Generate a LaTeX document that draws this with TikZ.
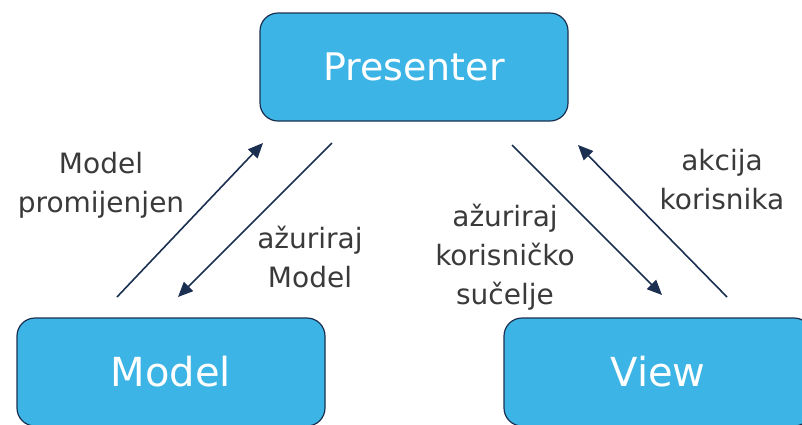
\documentclass[tikz,border=0pt]{standalone}
\usepackage{fontspec}
\setmainfont{DejaVu Sans}
\usetikzlibrary{arrows.meta}
\definecolor{boxfill}{HTML}{3CB4E5}
\definecolor{boxedge}{HTML}{1B3050}
\definecolor{arrowcol}{HTML}{1B2F50}
\definecolor{labelcol}{HTML}{3A3A3A}
\tikzset{
  box/.style={draw=boxedge, line width=1.2pt, fill=boxfill, rounded corners=18pt,
    minimum width=308pt, minimum height=108pt, inner sep=0pt, text=white},
  flow/.style={draw=arrowcol, line width=1.6pt, -{Triangle[length=15pt,width=13pt]}},
  lbl/.style={text=labelcol, align=center, font=\fontsize{28}{39}\selectfont, inner sep=0pt}
}
\begin{document}
\begin{tikzpicture}[x=1pt,y=-1pt]
\useasboundingbox (0,0) rectangle (802,424);
\clip (0,0) rectangle (802,424);
\node[box, font=\fontsize{38}{44}\selectfont] (presenter) at (414,67) {Presenter};
\node[box, font=\fontsize{40}{46}\selectfont] (model) at (171,372) {Model};
\node[box, font=\fontsize{40}{46}\selectfont] (view) at (658,372) {View};

\coordinate (a1s) at (117,297); \coordinate (a1e) at (263,143);
\coordinate (a2s) at (332,143); \coordinate (a2e) at (178,297);
\coordinate (a3s) at (512,145); \coordinate (a3e) at (662,295);
\coordinate (a4s) at (727,297); \coordinate (a4e) at (578,145);
\draw[flow] (a1s) -- (a1e);
\draw[flow] (a2s) -- (a2e);
\draw[flow] (a3s) -- (a3e);
\draw[flow] (a4s) -- (a4e);

\node[lbl] (l1) at (101,185) {Model\\promijenjen};
\node[lbl] (l2) at (310,257) {ažuriraj\\Model};
\node[lbl] (l3) at (505,257) {ažuriraj\\korisničko\\sučelje};
\node[lbl] (l4) at (722,180) {akcija\\korisnika};
\end{tikzpicture}
\end{document}
